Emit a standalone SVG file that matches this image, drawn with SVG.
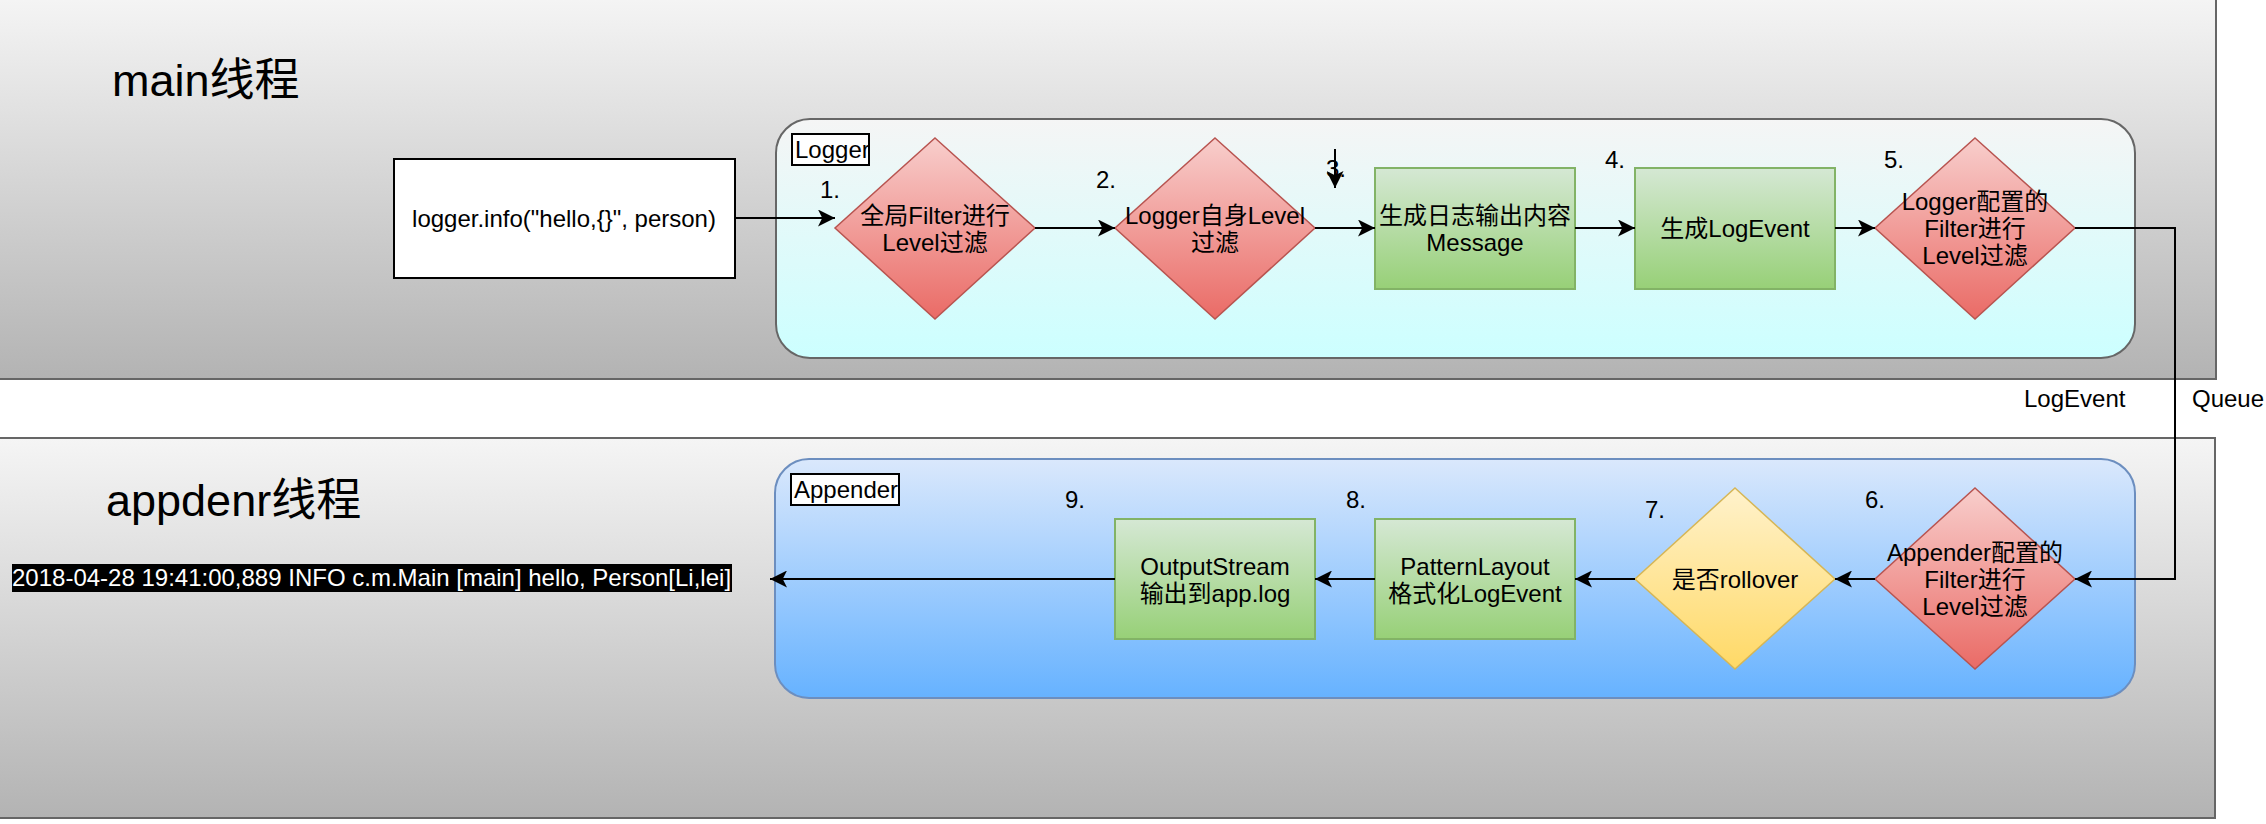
<svg xmlns="http://www.w3.org/2000/svg" width="2266" height="824" viewBox="0 0 2266 824">
<defs>
<linearGradient id="gBand" x1="0" y1="0" x2="0" y2="1"><stop offset="0" stop-color="#f5f5f5"/><stop offset="1" stop-color="#b3b3b3"/></linearGradient>
<linearGradient id="gLogger" x1="0" y1="0" x2="0" y2="1"><stop offset="0" stop-color="#f5f5f5"/><stop offset="1" stop-color="#ccffff"/></linearGradient>
<linearGradient id="gApp" x1="0" y1="0" x2="0" y2="1"><stop offset="0" stop-color="#dae8fc"/><stop offset="1" stop-color="#66b2ff"/></linearGradient>
<linearGradient id="gRed" x1="0" y1="0" x2="0" y2="1"><stop offset="0" stop-color="#f8cecc"/><stop offset="1" stop-color="#ea6b66"/></linearGradient>
<linearGradient id="gGreen" x1="0" y1="0" x2="0" y2="1"><stop offset="0" stop-color="#d5e8d4"/><stop offset="1" stop-color="#97d077"/></linearGradient>
<linearGradient id="gYellow" x1="0" y1="0" x2="0" y2="1"><stop offset="0" stop-color="#fff2cc"/><stop offset="1" stop-color="#ffd966"/></linearGradient>
<marker id="arr" markerUnits="userSpaceOnUse" markerWidth="17" markerHeight="17" viewBox="0 0 17 17" refX="17" refY="8.5" orient="auto"><path d="M0,0 L17,8.5 L0,17 L4.25,8.5 Z" fill="#000"/></marker>
</defs>
<style>
text{font-family:"Liberation Sans",Arial,"Noto Sans CJK SC",sans-serif;font-size:24px;fill:#000}
.mid{text-anchor:middle}
.title{font-size:45px}
.band{fill:url(#gBand);stroke:#666666;stroke-width:2}
.red{fill:url(#gRed);stroke:#b85450;stroke-width:1.5}
.green{fill:url(#gGreen);stroke:#82b366;stroke-width:2}
.yellow{fill:url(#gYellow);stroke:#d6b656;stroke-width:1.5}
.lbl{fill:#fff;stroke:#000;stroke-width:2}
.edge{fill:none;stroke:#000;stroke-width:2;marker-end:url(#arr)}
</style>
<rect width="2266" height="824" fill="#fff"/>
<g id="main-thread">
<rect class="band" x="-5" y="-5" width="2221" height="384"/>
<text class="title" x="112" y="96">main线程</text>
</g>
<g id="appender-thread">
<rect class="band" x="-5" y="438" width="2220" height="380"/>
<text class="title" x="106" y="516">appdenr线程</text>
</g>
<g id="logger-container">
<rect x="776" y="119" width="1359" height="239" rx="34" ry="34" fill="url(#gLogger)" stroke="#666666" stroke-width="2"/>
<rect class="lbl" x="792" y="134" width="77" height="31"/>
<text x="795" y="158">Logger</text>
</g>
<g id="appender-container">
<rect x="775" y="459" width="1360" height="239" rx="34" ry="34" fill="url(#gApp)" stroke="#6c8ebf" stroke-width="2"/>
<rect class="lbl" x="791" y="474" width="108" height="31"/>
<text x="794" y="498">Appender</text>
</g>
<g id="logger-call">
<rect x="394" y="159" width="341" height="119" fill="#fff" stroke="#000" stroke-width="2"/>
<text class="mid" x="564" y="227">logger.info("hello,{}", person)</text>
</g>
<g id="n1">
<polygon class="red" points="935,138 1035,228 935,319 835,228"/>
<text class="mid" x="935" y="224">全局Filter进行</text>
<text class="mid" x="935" y="251">Level过滤</text>
<text x="820" y="198">1.</text>
</g>
<g id="n2">
<polygon class="red" points="1215,138 1315,228 1215,319 1115,228"/>
<text class="mid" x="1215" y="224">Logger自身Level</text>
<text class="mid" x="1215" y="251">过滤</text>
<text x="1096" y="188">2.</text>
</g>
<g id="n3">
<rect class="green" x="1375" y="168" width="200" height="121"/>
<text class="mid" x="1475" y="224">生成日志输出内容</text>
<text class="mid" x="1475" y="251">Message</text>
<text x="1326" y="177">3.</text>
</g>
<g id="n4">
<rect class="green" x="1635" y="168" width="200" height="121"/>
<text class="mid" x="1735" y="237">生成LogEvent</text>
<text x="1605" y="168">4.</text>
</g>
<g id="n5">
<polygon class="red" points="1975,138 2075,228 1975,319 1875,228"/>
<text class="mid" x="1975" y="210">Logger配置的</text>
<text class="mid" x="1975" y="237">Filter进行</text>
<text class="mid" x="1975" y="264">Level过滤</text>
<text x="1884" y="168">5.</text>
</g>
<g id="n6">
<polygon class="red" points="1975,488 2075,579 1975,669 1875,579"/>
<text class="mid" x="1975" y="561">Appender配置的</text>
<text class="mid" x="1975" y="588">Filter进行</text>
<text class="mid" x="1975" y="615">Level过滤</text>
<text x="1865" y="508">6.</text>
</g>
<g id="n7">
<polygon class="yellow" points="1735,488 1835,579 1735,669 1635,579"/>
<text class="mid" x="1735" y="588">是否rollover</text>
<text x="1645" y="518">7.</text>
</g>
<g id="n8">
<rect class="green" x="1375" y="519" width="200" height="120"/>
<text class="mid" x="1475" y="575">PatternLayout</text>
<text class="mid" x="1475" y="602">格式化LogEvent</text>
<text x="1346" y="508">8.</text>
</g>
<g id="n9">
<rect class="green" x="1115" y="519" width="200" height="120"/>
<text class="mid" x="1215" y="575">OutputStream</text>
<text class="mid" x="1215" y="602">输出到app.log</text>
<text x="1065" y="508">9.</text>
</g>
<g id="output">
<rect x="12" y="564" width="720" height="28" fill="#000"/>
<text x="12" y="586" style="fill:#fff">2018-04-28 19:41:00,889 INFO c.m.Main [main] hello, Person[Li,lei]</text>
</g>
<g id="connectors">
<path class="edge" d="M735,218 H835"/>
<path class="edge" d="M1035,228 H1115"/>
<path class="edge" d="M1315,228 H1375"/>
<path class="edge" d="M1575,228 H1635"/>
<path class="edge" d="M1835,228 H1875"/>
<path class="edge" d="M2075,228 H2175 V579 H2075"/>
<path class="edge" d="M1875,579 H1835"/>
<path class="edge" d="M1635,579 H1575"/>
<path class="edge" d="M1375,579 H1315"/>
<path class="edge" d="M1115,579 H770"/>
<path class="edge" d="M1335,149 V188"/>
<text x="2024" y="407">LogEvent</text>
<text x="2192" y="407">Queue</text>
</g>
</svg>
